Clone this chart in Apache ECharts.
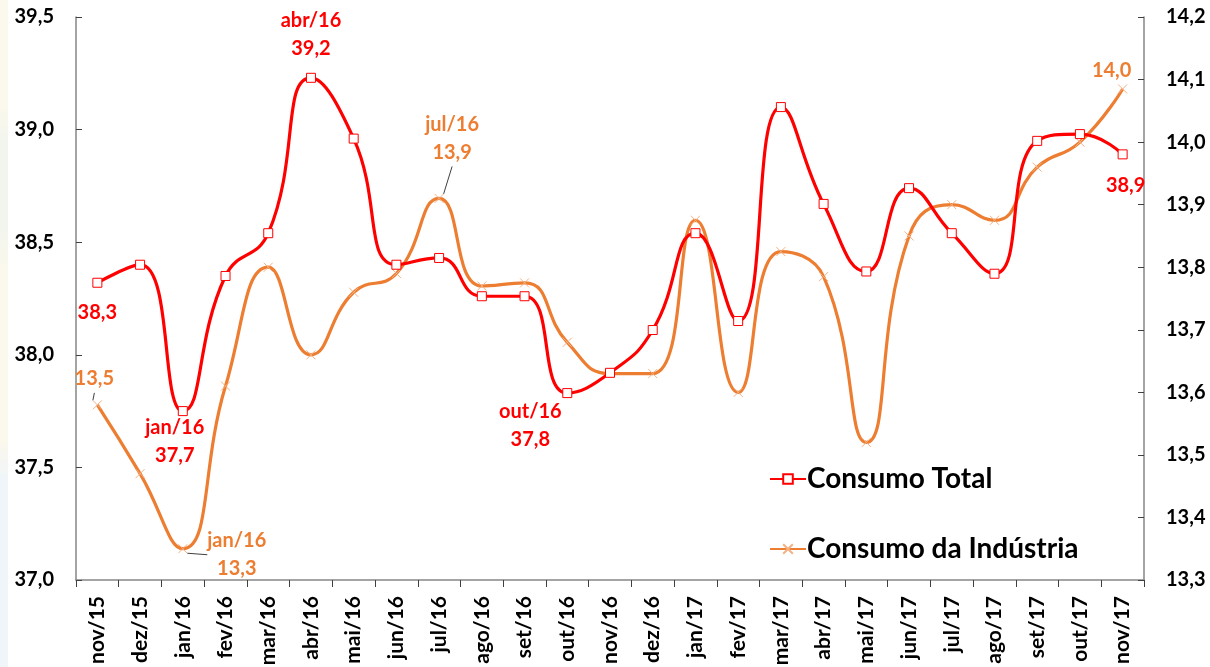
<!DOCTYPE html>
<html>
<head>
<meta charset="utf-8">
<script src="https://cdn.jsdelivr.net/npm/echarts@6/dist/echarts.min.js"></script>
<style>
  html, body { margin: 0; padding: 0; background: #fff; }
  #chart { width: 1210px; height: 667px; }
</style>
</head>
<body>
<div id="chart"></div>
<script>
// meses
var categories = ['nov/15','dez/15','jan/16','fev/16','mar/16','abr/16','mai/16','jun/16','jul/16','ago/16','set/16','out/16','nov/16',
    'dez/16','jan/17','fev/17','mar/17','abr/17','mai/17','jun/17','jul/17','ago/17','set/17','out/17','nov/17'];

// Consumo Total (eixo esquerdo)
var consumoTotal = [38.32, 38.40, 37.75, 38.35, 38.54, 39.23, 38.96, 38.40, 38.43, 38.26, 38.26, 37.83, 37.92,
    38.11, 38.54, 38.15, 39.10, 38.67, 38.37, 38.74, 38.54, 38.36, 38.95, 38.98, 38.89];

// Consumo da Industria (eixo direito)
var consumoIndustria = [13.58, 13.47, 13.35, 13.61, 13.80, 13.66, 13.76, 13.79, 13.91, 13.77, 13.775, 13.68, 13.63,
    13.63, 13.875, 13.60, 13.825, 13.785, 13.52, 13.85, 13.90, 13.875, 13.96, 14.00, 14.085];

var leftTicks = [37.0, 37.5, 38.0, 38.5, 39.0, 39.5];
var rightTicks = [13.3, 13.4, 13.5, 13.6, 13.7, 13.8, 13.9, 14.0, 14.1, 14.2];

// anotacoes (indice -> texto)
var notasTotal = {0: '38,3', 2: 'jan/16\n37,7', 5: 'abr/16\n39,2', 11: 'out/16\n37,8', 24: '38,9'};
var notasIndustria = {0: '13,5', 2: 'jan/16\n13,3', 8: 'jul/16\n13,9', 24: '14,0'};

// posicao das anotacoes (dx/dy = deslocamento com linha guia)
var posTotal = {
    0: {position: 'bottom', distance: 11, offset: [0, 0]},
    2: {position: 'bottom', distance: 4, offset: [-8, -7]},
    5: {position: 'top', distance: 12, offset: [0, 2]},
    11: {position: 'bottom', distance: 4, offset: [-37, -5]},
    24: {position: 'bottom', distance: 12, offset: [3, 0]}
};
var posIndustria = {
    0: {position: 'top', distance: 5, dx: -3, dy: -2, guide: true},
    2: {position: 'right', distance: 5, dx: 44, dy: 6, guide: true},
    8: {position: 'top', distance: 5, dx: 13, dy: -22, guide: true},
    24: {position: 'top', distance: 6, dx: -11, dy: 7, guide: false}
};

var FONT = 'Lato';
var fmt = function (v) { return v.toFixed(1).replace('.', ','); };

var buildData = function (values, notas, pos, color) {
    return values.map(function (v, i) {
        if (notas[i] === undefined) return v;
        var p = pos[i];
        var item = {
            value: v,
            label: {
                show: true,
                formatter: notas[i],
                position: p.position,
                distance: p.distance,
                offset: p.offset || [0, 0],
                color: color,
                fontFamily: FONT,
                fontWeight: 'bold',
                fontSize: 20,
                lineHeight: 28,
                align: 'center'
            }
        };
        if (p.dx !== undefined) {
            item.labelLine = {show: !!p.guide, lineStyle: {color: '#404040', width: 1}};
        }
        return item;
    });
};

var chart = echarts.init(document.getElementById('chart'), null, {renderer: 'canvas'});

var option = {
    backgroundColor: '#fff',
    animation: false,
    // faixa lateral do slide
    graphic: [{
        type: 'rect',
        left: 0,
        top: 0,
        shape: {width: 8, height: 667},
        style: {
            fill: new echarts.graphic.LinearGradient(0, 0, 0, 1, [
                {offset: 0, color: '#FBF8EC'},
                {offset: 0.16, color: '#FBF8EC'},
                {offset: 0.22, color: '#F1F5EE'},
                {offset: 0.34, color: '#F1F5EE'},
                {offset: 0.40, color: '#FBF8EC'},
                {offset: 0.66, color: '#FBF8EC'},
                {offset: 0.72, color: '#EFF5F9'},
                {offset: 1, color: '#EFF5F9'}
            ])
        },
        silent: true,
        z: -1
    }],
    grid: {left: 76, right: 66, top: 17, bottom: 87, containLabel: false, outerBoundsMode: 'none'},
    legend: {
        orient: 'vertical',
        left: 764,
        top: 460,
        itemWidth: 36,
        itemHeight: 12,
        itemGap: 42,
        textStyle: {fontFamily: FONT, fontWeight: 'bold', fontSize: 28, color: '#000', padding: [0, 0, 0, -4]},
        data: ['Consumo Total', 'Consumo da Indústria']
    },
    xAxis: {
        type: 'category',
        data: categories,
        boundaryGap: true,
        axisLine: {lineStyle: {color: '#868686', width: 1.5}},
        axisTick: {show: true, length: 7, lineStyle: {color: '#404040'}},
        axisLabel: {
            rotate: 90,
            margin: 16,
            interval: 0,
            color: '#000',
            fontFamily: FONT,
            fontWeight: 'bold',
            fontSize: 21
        },
        splitLine: {show: false}
    },
    yAxis: [{
        type: 'value',
        min: leftTicks[0],
        max: leftTicks[leftTicks.length - 1],
        interval: 0.5,
        position: 'left',
        axisLine: {show: true, lineStyle: {color: '#868686', width: 1.5}},
        axisTick: {show: true, inside: true, length: 6, lineStyle: {color: '#404040'}},
        axisLabel: {margin: 22, color: '#000', fontFamily: FONT, fontWeight: 'bold', fontSize: 20, formatter: fmt},
        splitLine: {show: false}
    }, {
        type: 'value',
        min: rightTicks[0],
        max: rightTicks[rightTicks.length - 1],
        interval: 0.1,
        position: 'right',
        axisLine: {show: true, lineStyle: {color: '#868686', width: 1.5}},
        axisTick: {show: true, inside: true, length: 6, lineStyle: {color: '#404040'}},
        axisLabel: {margin: 22, color: '#000', fontFamily: FONT, fontWeight: 'bold', fontSize: 20, formatter: fmt},
        splitLine: {show: false}
    }],
    series: [{
        name: 'Consumo da Indústria',
        type: 'line',
        yAxisIndex: 1,
        smooth: 0.5,
        data: buildData(consumoIndustria, notasIndustria, posIndustria, '#ED7D31'),
        symbol: 'path://M0,0L10,10M10,0L0,10',
        symbolSize: 9,
        showAllSymbol: true,
        lineStyle: {color: '#ED7D31', width: 3.2},
        itemStyle: {color: '#ED7D31', borderColor: '#F4B183', borderWidth: 1},
        labelLayout: function (params) {
            var p = posIndustria[params.dataIndex];
            if (!p || p.dx === undefined) return {};
            return {dx: p.dx, dy: p.dy};
        },
        z: 2
    }, {
        name: 'Consumo Total',
        type: 'line',
        yAxisIndex: 0,
        smooth: 0.5,
        data: buildData(consumoTotal, notasTotal, posTotal, '#FF0000'),
        symbol: 'rect',
        symbolSize: 9,
        showAllSymbol: true,
        lineStyle: {color: '#FF0000', width: 3.2},
        itemStyle: {color: '#fff', borderColor: '#FF0000', borderWidth: 1},
        z: 3
    }]
};

chart.setOption(option);
</script>
</body>
</html>
